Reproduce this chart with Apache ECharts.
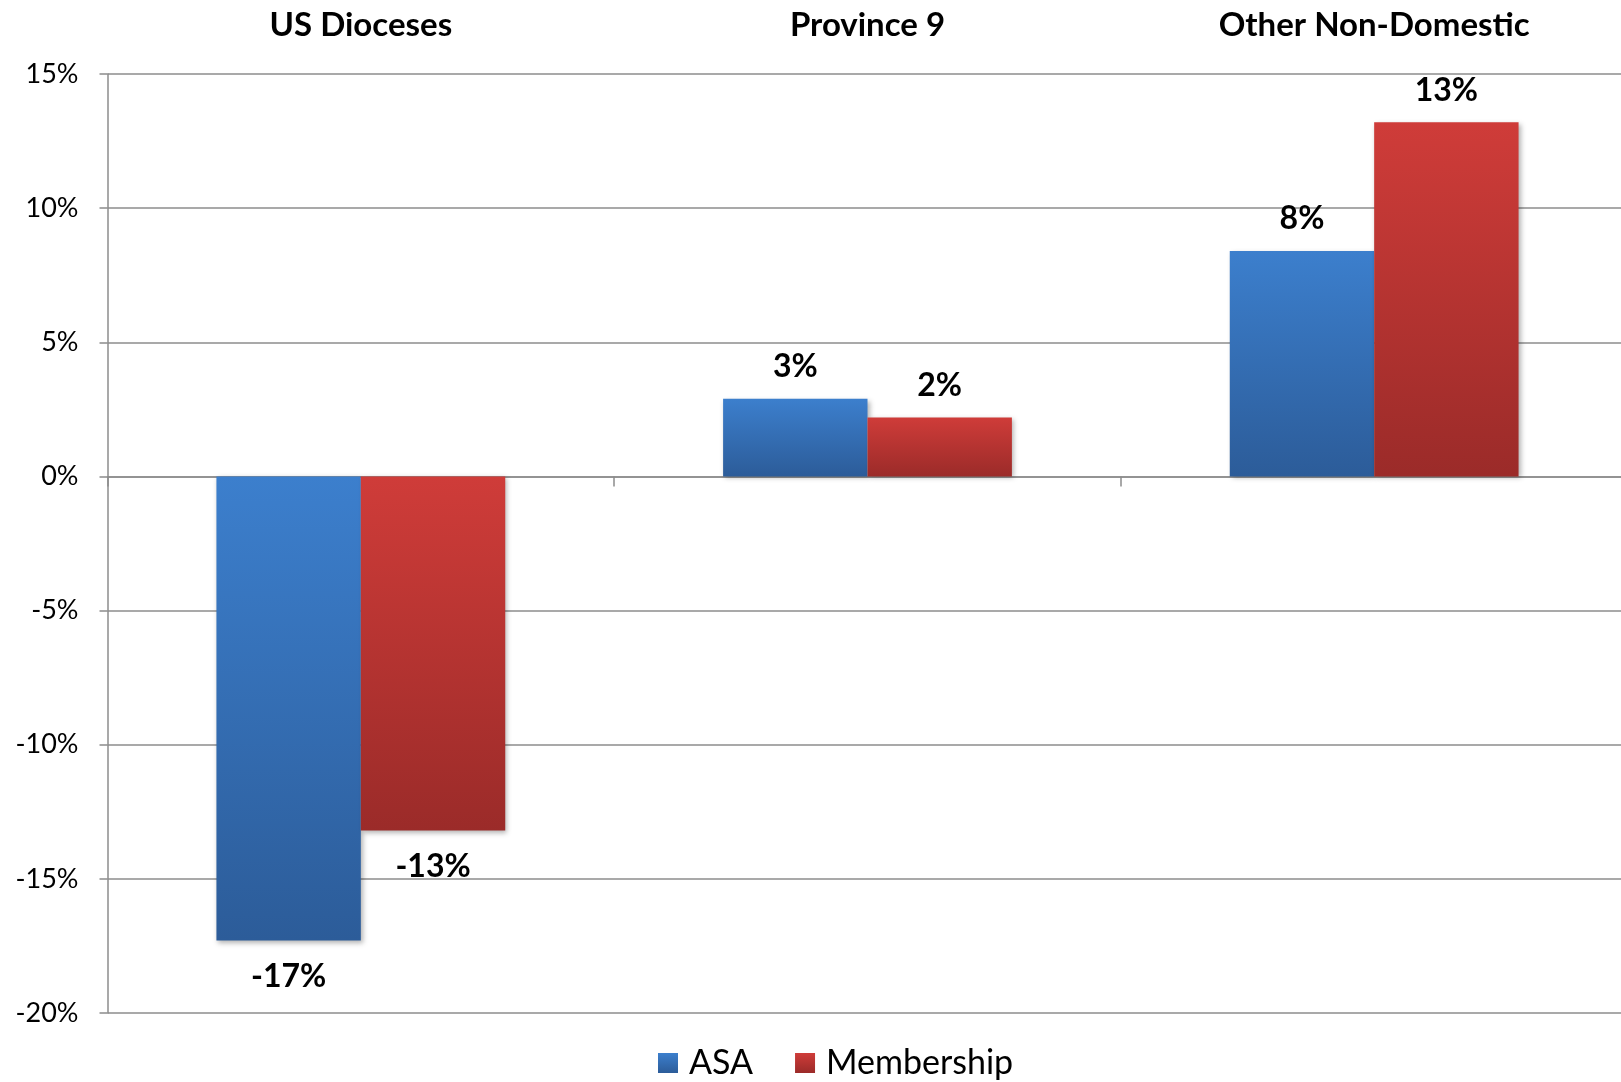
<!DOCTYPE html>
<html>
<head>
<meta charset="utf-8">
<script src="https://cdn.jsdelivr.net/npm/echarts@6/dist/echarts.min.js"></script>
<style>html,body{margin:0;padding:0;background:#fff;overflow:hidden}#c{width:1630px;height:1082px}</style>
</head>
<body>
<div id="c"></div>
<script>
const categories = ['US Dioceses', 'Province 9', 'Other Non-Domestic'];
const asaValues = [-17.3, 2.9, 8.4];
const membershipValues = [-13.2, 2.2, 13.2];
const yTicks = [-20, -15, -10, -5, 0, 5, 10, 15];

const FONT = 'Lato, "Open Sans", sans-serif';
function grad(top, bottom) {
  return new echarts.graphic.LinearGradient(0, 0, 0, 1, [
    { offset: 0, color: top }, { offset: 1, color: bottom }
  ]);
}
function makeData(vals) {
  return vals.map(v => ({
    value: v,
    label: v >= 0 ? { position: 'top', distance: 16 } : { position: 'bottom', distance: 20 }
  }));
}
const labelStyle = {
  show: true, fontFamily: FONT, fontWeight: 'bold', fontSize: 32, color: '#000',
  formatter: p => Math.round(p.value) + '%'
};
const chart = echarts.init(document.getElementById('c'));
chart.setOption({
  animation: false,
  backgroundColor: '#fff',
  grid: { left: 107.5, top: 74, width: 1520, height: 939, containLabel: false },
  legend: {
    bottom: -3, left: 653,
    itemWidth: 20, itemHeight: 20, itemGap: 42,
    icon: 'rect',
    textStyle: { fontFamily: FONT, fontSize: 34, color: '#000', padding: [0, 0, 0, 6] },
    data: ['ASA', 'Membership']
  },
  xAxis: [
    {
      type: 'category', data: categories, position: 'bottom',
      axisLine: { onZero: true, lineStyle: { color: '#8c8c8c', width: 1.5 } },
      axisTick: { show: true, length: 10, lineStyle: { color: '#8c8c8c', width: 1.5 } },
      axisLabel: { show: false }
    },
    {
      type: 'category', data: categories, position: 'top',
      axisLine: { show: false }, axisTick: { show: false },
      axisLabel: { margin: 32, fontFamily: FONT, fontWeight: 'bold', fontSize: 33, color: '#000' }
    }
  ],
  yAxis: {
    type: 'value', min: yTicks[0], max: yTicks[yTicks.length - 1], interval: 5,
    axisLine: { show: true, lineStyle: { color: '#8c8c8c', width: 1.5 } },
    axisTick: { show: true, length: 8, lineStyle: { color: '#8c8c8c', width: 1.5 } },
    splitLine: { show: true, lineStyle: { color: '#8c8c8c', width: 1.5 } },
    axisLabel: { margin: 29, fontFamily: FONT, fontSize: 27, color: '#000', formatter: v => v + '%' }
  },
  series: [
    {
      name: 'ASA', type: 'bar', data: makeData(asaValues), barGap: '0%', barCategoryGap: '43%',
      itemStyle: { color: grad('#3c7fcd', '#2c5c99'), shadowBlur: 5, shadowOffsetX: 2, shadowOffsetY: 2, shadowColor: 'rgba(0,0,0,0.3)' },
      label: labelStyle
    },
    {
      name: 'Membership', type: 'bar', data: makeData(membershipValues), barGap: '0%', barCategoryGap: '43%',
      itemStyle: { color: grad('#cf3c39', '#9b2b29'), shadowBlur: 5, shadowOffsetX: 2, shadowOffsetY: 2, shadowColor: 'rgba(0,0,0,0.3)' },
      label: labelStyle
    }
  ]
});
</script>
</body>
</html>
